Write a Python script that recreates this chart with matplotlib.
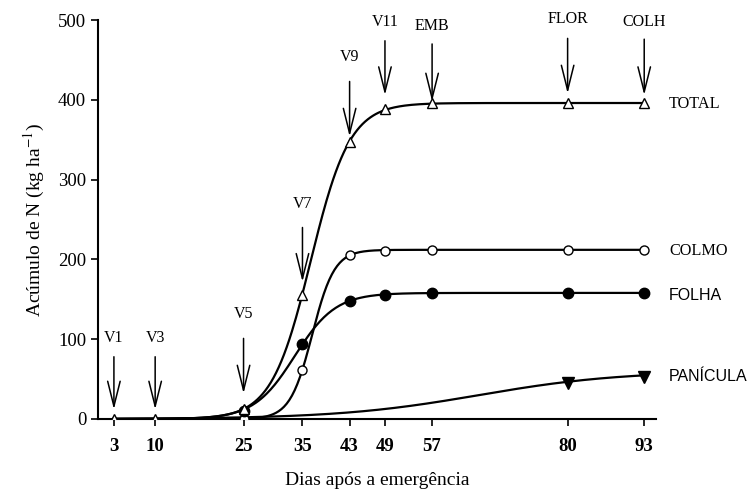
import numpy as np
import matplotlib
matplotlib.use('Agg')
import matplotlib.pyplot as plt

plt.rcParams['font.family'] = ['Liberation Serif']
plt.rcParams['mathtext.fontset'] = 'stix'

# sampling days (days after emergence)
dias = [3, 10, 25, 35, 43, 49, 57, 80, 93]

# N accumulation, kg/ha
total = [0, 0, 13, 156, 347, 388, 396, 396, 396]
partes_dias = [25, 35, 43, 49, 57, 80, 93]
colmo = [0, 62, 205, 211, 212, 212, 212]
folha = [10, 94, 148, 156, 158, 158, 158]
panicula_dias = [80, 93]
panicula = [45, 53]

# logistic fits  y = a / (1 + exp(-(x - x0) / b))
fit_total = (396, 36.4, 3.33)
fit_colmo = (212, 36.66, 1.88)
fit_folha = (158, 33.7, 3.46)
fit_panicula = (60, 65, 12)

# growth stages marked with arrows
estadios = ['V1', 'V3', 'V5', 'V7', 'V9', 'V11', 'EMB', 'FLOR', 'COLH']
estadio_dias = [3, 10, 25, 35, 43, 49, 57, 80, 93]


def logistic(x, p):
    a, x0, b = p
    return a / (1 + np.exp(-(x - x0) / b))


fig = plt.figure(figsize=(7.51, 4.92), dpi=100)
ax = fig.add_axes([0.1305, 0.1484, 0.743, 0.8109])

xx = np.linspace(3, 93, 400)
for p in (fit_total, fit_colmo, fit_folha, fit_panicula):
    ax.plot(xx, logistic(xx, p), color='black', lw=1.6, zorder=2)

ax.plot(partes_dias, colmo, 'o', ms=6.5, mfc='white', mec='black', mew=1, zorder=3)
ax.plot(partes_dias, folha, 'o', ms=7.5, mfc='black', mec='black', zorder=3)
ax.plot(dias, total, '^', ms=7, mfc='white', mec='black', mew=1, zorder=4)
ax.plot(panicula_dias, panicula, 'v', ms=8, mfc='black', mec='black', zorder=3)

# arrows: label y, arrow tail, arrow tip (data units)
lab_y = [92, 92, 122, 259, 444, 487, 483, 491, 488]
tail_y = [78, 78, 101, 240, 423, 474, 470, 477, 476]
tip_y = [12, 12, 32, 172, 354, 406, 398, 408, 406]
for s, x, ly, t0, t1 in zip(estadios, estadio_dias, lab_y, tail_y, tip_y):
    ax.annotate('', xy=(x, t1), xytext=(x, t0),
                arrowprops=dict(arrowstyle='->,head_length=1.8,head_width=0.45',
                                lw=1.1, color='black', shrinkA=0, shrinkB=0))
    ax.text(x, ly, s, ha='center', va='bottom', fontsize=11.5)

ax.text(97.2, 395, 'TOTAL', va='center', fontsize=11.7)
ax.text(97.2, 210, 'COLMO', va='center', fontsize=11.7)
ax.text(97.2, 155, 'FOLHA', va='center', fontsize=11.5, family='Liberation Sans')
ax.text(97.2, 53, 'PANÍCULA', va='center', fontsize=11.5, family='Liberation Sans')

ax.set_xlim(0.3, 95)
ax.set_ylim(0, 500)
ax.set_xticks(dias)
ax.set_xticklabels([str(d) for d in dias], fontweight='bold', fontsize=13.5)
ax.set_yticks([0, 100, 200, 300, 400, 500])
ax.tick_params(axis='y', labelsize=13.5, direction='out', length=5, width=1.2)
ax.tick_params(axis='x', direction='out', length=5, width=1.2, pad=9)
for side in ('top', 'right'):
    ax.spines[side].set_visible(False)
for side in ('left', 'bottom'):
    ax.spines[side].set_linewidth(1.5)

ax.set_xlabel('Dias após a emergência', fontsize=14, labelpad=12)
ax.set_ylabel('Acúmulo de N (kg ha$^{-1}$)', fontsize=14, labelpad=8)

fig.savefig('out.png', dpi=100)
